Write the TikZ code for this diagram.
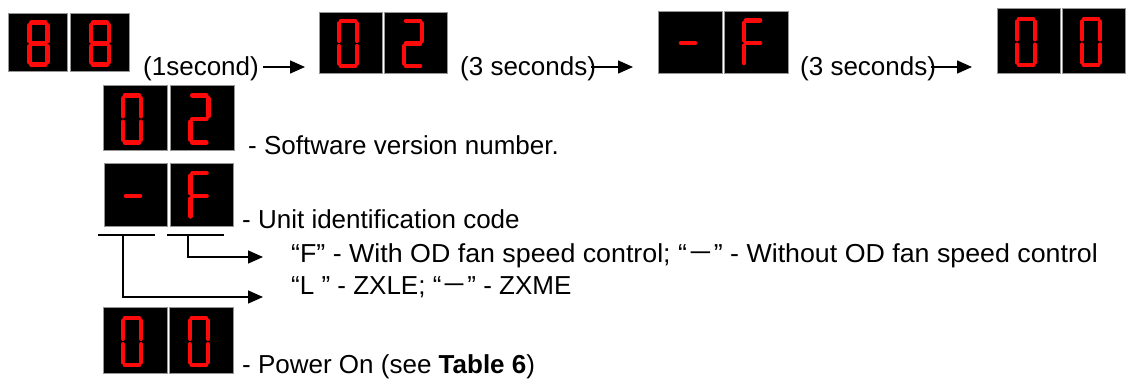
\documentclass[tikz,border=0pt]{standalone}
\usepackage{fontspec}
\setmainfont{Liberation Sans}
\newfontfamily\cjk{Noto Sans CJK SC}
\usetikzlibrary{arrows.meta,calc}
\definecolor{segred}{RGB}{255,10,10}
\definecolor{boxgrey}{RGB}{150,150,150}
\def\segA{\draw[segline] (-7,-21) -- (7,-21);}
\def\segB{\draw[segline] (9,-18.5) -- (9,-2.5);}
\def\segC{\draw[segline] (9,2.5) -- (9,18.5);}
\def\segD{\draw[segline] (-7,21) -- (7,21);}
\def\segE{\draw[segline] (-9,2.5) -- (-9,18.5);}
\def\segF{\draw[segline] (-9,-18.5) -- (-9,-2.5);}
\def\segG{\draw[segline] (-7,0) -- (7,0);}
\tikzset{
  x=1pt, y=-1pt,
  dbox/.style 2 args={draw=boxgrey, line width=1pt, fill=black, inner sep=0pt,
    minimum width=#1, minimum height=#2},
  segline/.style={draw=segred, line width=4.6pt, line cap=round},
  digit/.pic={\foreach \s in {#1}{\csname seg\s\endcsname}},
  txt/.style={inner sep=0pt, anchor=base west, font=\fontsize{26}{30}\selectfont},
  ltxt/.style={txt},
  conn/.style={line width=1.5pt, -{Triangle[length=15pt,width=13pt]}},
  brk/.style={line width=1.5pt},
}
\begin{document}
\begin{tikzpicture}
\useasboundingbox (0,0) rectangle (1126,380);
% ---------- top row ----------
\node[dbox={59}{58}] (t88a) at (38,42.5) {};
\node[dbox={59}{58}] (t88b) at (99.7,42.5) {};
\pic at (38.3,43.7) {digit={A,B,C,D,E,F,G}};
\pic at (100,43.7) {digit={A,B,C,D,E,F,G}};
\node[txt] (s1) at (143,75) {(1second)};
\coordinate (e1) at (305,67);
\draw[conn] (s1.east |- e1) ++(4,0) coordinate (a1) -- (e1);

\node[dbox={63}{61}] (t02a) at (350.5,42.5) {};
\node[dbox={63}{61}] (t02b) at (415.5,42.5) {};
\pic[yscale=1.08] at (348,43.5) {digit={A,B,C,D,E,F}};
\pic[yscale=1.08] at (413,43.5) {digit={A,B,G,E,D}};
\node[txt] (s2) at (460,75) {(3 seconds)};
\coordinate (e2) at (633,67);
\draw[conn] (s2.east |- e2) ++(-5,0) coordinate (a2) -- (e2);

\node[dbox={64}{62}] (tmfa) at (690,42) {};
\node[dbox={64}{62}] (tmfb) at (756,42) {};
\pic[yscale=1.08] at (688,43) {digit={G}};
\pic[yscale=1.08] at (753,43) {digit={A,F,E,G}};
\node[txt] (s3) at (800,75) {(3 seconds)};
\coordinate (e3) at (972,67);
\draw[conn] (s3.east |- e3) ++(-5,0) coordinate (a3) -- (e3);

\node[dbox={63}{65}] (t00a) at (1028.5,40.8) {};
\node[dbox={63}{65}] (t00b) at (1093.5,40.8) {};
\pic[yscale=1.1] at (1026,42) {digit={A,B,C,D,E,F}};
\pic[yscale=1.1] at (1091,42) {digit={A,B,C,D,E,F}};

% ---------- lower part ----------
\node[dbox={64}{65}] (m02a) at (135,117.5) {};
\node[dbox={64}{65}] (m02b) at (202,117.5) {};
\pic[yscale=1.12] at (132,119) {digit={A,B,C,D,E,F}};
\pic[yscale=1.12] at (199.3,119) {digit={A,B,G,E,D}};
\node[ltxt] (l1) at (248,154) {- Software version number.};

\node[dbox={63}{63}] (mmfa) at (135.5,194.5) {};
\node[dbox={63}{63}] (mmfb) at (202,194.5) {};
\pic[yscale=1.1] at (133,196) {digit={G}};
\pic[yscale=1.1] at (199.5,196) {digit={A,F,E,G}};
\node[ltxt] (l2) at (242,228) {- Unit identification code};

\coordinate (k1a) at (98,235);
\coordinate (k1b) at (155,235);
\coordinate (k2a) at (167,235);
\coordinate (k2b) at (224,235);
\draw[brk] (k1a) -- (k1b);
\draw[brk] (k2a) -- (k2b);
\coordinate (k1) at (123,235);
\coordinate (k2) at (188,235);

\node[ltxt, xscale=1.03] (l3) at (291,262) {“F” - With OD fan speed control; “{\cjk －}” - Without OD fan speed control};
\node[ltxt] (l4) at (291,294) {“L ” - ZXLE; “{\cjk －}” - ZXME};
\coordinate (p3) at (263,257);
\coordinate (p4) at (263,297);
\draw[conn] (k2) |- (p3);
\draw[conn] (k1) |- (p4);

\node[dbox={64}{66}] (m00a) at (135,340) {};
\node[dbox={64}{66}] (m00b) at (201.5,340) {};
\pic[yscale=1.12] at (132,341.5) {digit={A,B,C,D,E,F}};
\pic[yscale=1.12] at (198.8,341.5) {digit={A,B,C,D,E,F}};
\node[ltxt] (l5) at (242,373.5) {- Power On (see \textbf{Table 6})};
\end{tikzpicture}
\end{document}
